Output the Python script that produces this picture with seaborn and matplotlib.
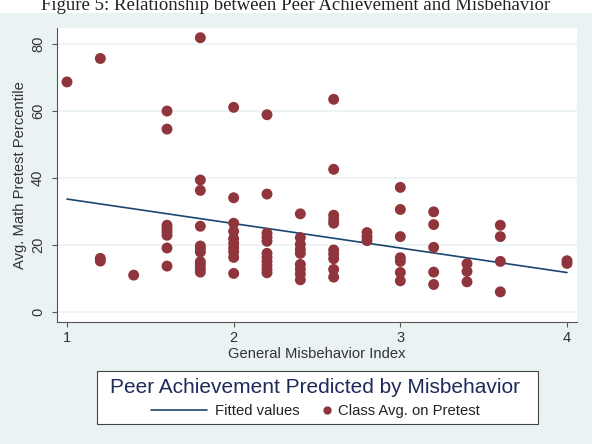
import matplotlib
matplotlib.use('Agg')
import matplotlib.pyplot as plt
from matplotlib.lines import Line2D
from matplotlib.legend_handler import HandlerLine2D
import seaborn as sns
import pandas as pd

# Class averages: misbehavior index vs. avg. math pretest percentile
misbehavior = ([1.0] + [1.2] * 3 + [1.4] + [1.6] * 8 + [1.8] * 11 + [2.0] * 10
               + [2.2] * 11 + [2.4] * 9 + [2.6] * 10 + [2.8] * 3 + [3.0] * 7
               + [3.2] * 5 + [3.4] * 3 + [3.6] * 4 + [4.0] * 2)
pretest = [68.7,
           75.7, 16.0, 15.2,
           11.0,
           60.0, 54.6, 25.9, 24.9, 23.9, 22.9, 19.1, 13.7,
           81.9, 39.4, 36.3, 25.6, 19.7, 18.9, 17.9, 15.0, 14.1, 12.9, 11.9,
           61.1, 34.1, 26.5, 24.1, 21.9, 20.5, 19.1, 17.9, 16.3, 11.5,
           58.9, 35.2, 23.5, 22.3, 21.1, 17.5, 16.3, 15.1, 13.9, 12.7, 11.7,
           29.3, 22.2, 20.2, 18.7, 17.5, 14.2, 12.8, 11.3, 9.6,
           63.5, 42.6, 28.9, 27.6, 26.5, 18.5, 17.3, 15.9, 12.7, 10.4,
           23.7, 22.5, 21.3,
           37.2, 30.6, 22.5, 16.2, 15.1, 11.8, 9.3,
           29.9, 26.1, 19.3, 11.9, 8.2,
           14.4, 12.1, 9.0,
           25.9, 22.5, 15.1, 6.0,
           15.3, 14.5]
x_ticks = [1, 2, 3, 4]
y_ticks = [0, 20, 40, 60, 80]

df = pd.DataFrame({'misbehavior': misbehavior, 'pretest': pretest})

navy = '#1a476f'
maroon = '#90353b'
bg = '#eaf2f3'


# legend marker sits at the right end of its handle box (stata style)
class RightMarker(HandlerLine2D):
    def get_xdata(self, legend, xdescent, ydescent, width, height, fontsize):
        x = [-xdescent + width - 0.24 * fontsize]
        return x, x


sns.set_style('white')
plt.rcParams['font.family'] = ['Liberation Sans', 'DejaVu Sans']

fig = plt.figure(figsize=(5.92, 4.44), dpi=100, facecolor='white')
# graph region background below the caption
fig.patches.append(plt.Rectangle((0, 0), 1, 1 - 13 / 444, transform=fig.transFigure,
                                 facecolor=bg, edgecolor='none', zorder=-10))
fig.text(0.5, 1 - 10 / 444, 'Figure 5: Relationship between Peer Achievement and Misbehavior',
         ha='center', va='baseline', fontsize=13.5, family='Liberation Serif', color='#222222')

ax = fig.add_axes([57 / 592, 1 - 322 / 444, 520 / 592, 294 / 444])
ax.set_facecolor('white')

sns.regplot(data=df, x='misbehavior', y='pretest', scatter=False, ci=None, ax=ax,
            line_kws={'color': navy, 'lw': 1.2})
sns.scatterplot(data=df, x='misbehavior', y='pretest', ax=ax, color=maroon, s=62,
                edgecolor='none', zorder=3, legend=False)

ax.set_xlim(0.94, 4.06)
ax.set_ylim(-3, 84.8)
ax.set_xticks(x_ticks)
ax.set_yticks(y_ticks)
ax.set_yticklabels([str(v) for v in y_ticks], rotation=90, va='center')
ax.tick_params(axis='both', direction='out', length=3.6, width=0.8, color='#555555',
               labelsize=10.5, labelcolor='#333333', bottom=True, left=True)
ax.tick_params(axis='x', pad=3)
ax.tick_params(axis='y', pad=5)
ax.grid(axis='y', color=bg, lw=1.2)
ax.set_axisbelow(True)
for side in ['top', 'right']:
    ax.spines[side].set_visible(False)
for side in ['left', 'bottom']:
    ax.spines[side].set_color('#555555')
    ax.spines[side].set_linewidth(0.8)
ax.set_xlabel('General Misbehavior Index', fontsize=10.6, color='#333333', labelpad=1)
ax.set_ylabel('Avg. Math Pretest Percentile', fontsize=10.6, color='#333333', labelpad=3)

# legend box drawn as a patch, entries laid out inside it
fig.patches.append(plt.Rectangle((97 / 592, 1 - 424 / 444), 441 / 592, 53 / 444,
                                 transform=fig.transFigure, facecolor='white',
                                 edgecolor='#444444', lw=0.8, zorder=1))
fit_handle = Line2D([], [], color=navy, lw=1.2)
dot_handle = Line2D([], [], color=maroon, marker='o', ls='', markersize=5)
leg = fig.legend([fit_handle, dot_handle], ['Fitted values', 'Class Avg. on Pretest'],
                 loc='center', bbox_to_anchor=(315.5 / 592, 1 - 398 / 444), ncol=2,
                 title='Peer Achievement Predicted by Misbehavior', title_fontsize=15,
                 fontsize=10.7, frameon=False, handlelength=3.77, handletextpad=0.56,
                 columnspacing=-1.72, labelspacing=0.5, borderpad=0,
                 handler_map={dot_handle: RightMarker()})
leg.get_title().set_color('#1e2a5a')
for t in leg.get_texts():
    t.set_color('#222222')

fig.savefig('out.png', dpi=100, facecolor=fig.get_facecolor())
